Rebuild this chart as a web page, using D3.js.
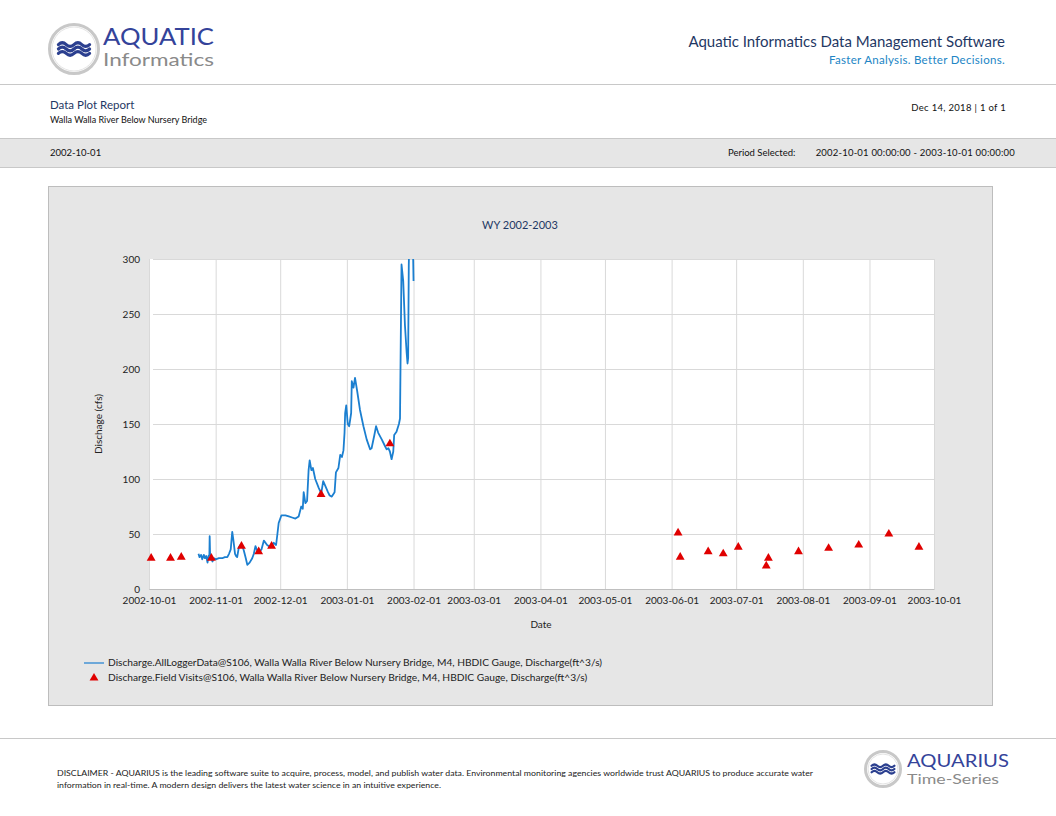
<!DOCTYPE html>
<html>
<head>
<meta charset="utf-8">
<script src="https://cdn.jsdelivr.net/npm/d3@7"></script>
<style>
  body { margin:0; background:#fff; }
  text { font-family: Lato, "Open Sans", sans-serif; }
</style>
</head>
<body>
<script>
// logger discharge series (ft^3/s)
const loggerTimes = [
  "2002-10-24 00:00","2002-10-24 12:00","2002-10-25 06:00","2002-10-25 18:00","2002-10-26 12:00",
  "2002-10-27 00:00","2002-10-27 14:00","2002-10-28 05:00","2002-10-28 16:00","2002-10-29 02:00",
  "2002-10-29 05:00","2002-10-29 10:00","2002-10-29 17:00","2002-10-30 12:00","2002-10-31 06:00",
  "2002-11-01 00:00","2002-11-02 12:00","2002-11-04 02:00","2002-11-05 06:00","2002-11-06 10:00",
  "2002-11-07 05:00","2002-11-08 00:00","2002-11-08 17:00","2002-11-09 05:00","2002-11-10 00:00",
  "2002-11-10 12:00","2002-11-11 00:00","2002-11-11 19:00","2002-11-12 12:00","2002-11-13 10:00",
  "2002-11-14 02:00","2002-11-15 00:00","2002-11-15 17:00","2002-11-16 19:00","2002-11-18 00:00",
  "2002-11-18 18:00","2002-11-19 12:00","2002-11-20 07:00","2002-11-21 02:00","2002-11-22 07:00",
  "2002-11-23 10:00","2002-11-24 22:00","2002-11-26 12:00","2002-11-28 00:00","2002-11-29 02:00",
  "2002-11-29 17:00","2002-11-30 07:00","2002-12-01 14:00","2002-12-03 10:00","2002-12-05 00:00",
  "2002-12-06 12:00","2002-12-08 02:00","2002-12-09 14:00","2002-12-10 19:00","2002-12-11 12:00",
  "2002-12-11 22:00","2002-12-12 17:00","2002-12-13 12:00","2002-12-14 05:00","2002-12-14 17:00",
  "2002-12-15 12:00","2002-12-16 05:00","2002-12-17 07:00","2002-12-18 22:00","2002-12-20 02:00",
  "2002-12-21 00:00","2002-12-21 22:00","2002-12-23 05:00","2002-12-24 00:00","2002-12-25 00:00",
  "2002-12-26 07:00","2002-12-26 22:00","2002-12-28 02:00","2002-12-28 22:00","2002-12-29 17:00",
  "2002-12-30 10:00","2002-12-30 22:00","2002-12-31 05:00","2002-12-31 17:00","2003-01-01 10:00",
  "2003-01-02 02:00","2003-01-03 00:00","2003-01-03 07:00","2003-01-04 02:00","2003-01-04 19:00",
  "2003-01-05 19:00","2003-01-07 02:00","2003-01-08 17:00","2003-01-10 05:00","2003-01-11 19:00",
  "2003-01-12 12:00","2003-01-13 19:00","2003-01-14 14:00","2003-01-15 14:00","2003-01-17 05:00",
  "2003-01-18 17:00","2003-01-19 12:00","2003-01-20 07:00","2003-01-21 00:00","2003-01-21 19:00",
  "2003-01-22 14:00","2003-01-23 00:00","2003-01-24 02:00","2003-01-25 05:00","2003-01-25 17:00",
  "2003-01-26 02:00","2003-01-26 10:00","2003-01-27 05:00","2003-01-28 00:00","2003-01-28 19:00",
  "2003-01-29 05:00","2003-01-29 12:00","2003-01-29 19:00","2003-01-30 06:00","2003-01-31 12:00",
  "2003-01-31 20:00","2003-02-01 00:00"
];
const loggerValues = [
  32,29,31,27,31,
  28,30,24,30,31,
  48,31,29,25,28,
  27,28,28,29,29,
  32,36,52,45,32,
  30,29,38,40,39,
  35,28,22,24,28,
  32,39,35,33,36,
  44,40,38,42,40,
  50,60,67,67,66,
  65,64,66,75,73,
  88,78,80,108,117,
  108,110,100,92,87,
  98,94,88,85,84,
  88,106,110,122,120,
  126,142,160,167,150,
  148,160,189,183,192,
  180,163,148,136,127,
  128,140,148,142,136,
  130,127,128,125,118,
  125,140,143,150,155,
  230,295,280,240,215,
  205,210,295,340,340,
  300,280
];

// field visit measurements
const visitDates = [
  "2002-10-02","2002-10-11","2002-10-16","2002-10-30","2002-11-13","2002-11-21","2002-11-27",
  "2002-12-20","2003-01-21","2003-06-04","2003-06-05","2003-06-18","2003-06-25","2003-07-02",
  "2003-07-15","2003-07-16","2003-07-30","2003-08-13","2003-08-27","2003-09-10","2003-09-24"
];
const visitValues = [
  28,28,29,28,39,34,39,
  86,132,51,29,34,32,38,
  21,28,34,37,40,50,38
];

const yTicks = [0,50,100,150,200,250,300];
const xDomain = ["2002-10-01","2003-10-01"];

const legendLabels = [
  "Discharge.AllLoggerData@S106, Walla Walla River Below Nursery Bridge, M4, HBDIC Gauge, Discharge(ft^3/s)",
  "Discharge.Field Visits@S106, Walla Walla River Below Nursery Bridge, M4, HBDIC Gauge, Discharge(ft^3/s)"
];

const navy = "#1f3864";
const lineColor = "#1b7fd0";
const visitColor = "#e00000";

const parseTime = d3.utcParse("%Y-%m-%d %H:%M");
const parseDay = d3.utcParse("%Y-%m-%d");

const svg = d3.select("body").append("svg")
    .attr("width",1056)
    .attr("height",816);

// logo: ring with three waves
function drawLogo(g, cx, cy, r){
  g.append("circle").attr("cx",cx).attr("cy",cy).attr("r",r-1.5)
    .attr("fill","#fff").attr("stroke","#c8c8c8").attr("stroke-width",3);
  g.append("circle").attr("cx",cx).attr("cy",cy).attr("r",r-4)
    .attr("fill","none").attr("stroke","#e4e4e4").attr("stroke-width",1);
  const w = r*0.6, amp = r*0.07, gap = r*0.17;
  [-1,0,1].forEach(k=>{
    const p = d3.path();
    const y0 = cy + k*gap;
    p.moveTo(cx-w, y0);
    for (let i=0;i<2;i++){
      const x0 = cx - w + i*w;
      p.quadraticCurveTo(x0 + w/4, y0 - amp*2, x0 + w/2, y0);
      p.quadraticCurveTo(x0 + 3*w/4, y0 + amp*2, x0 + w, y0);
    }
    g.append("path").attr("d",p.toString()).attr("fill","none")
      .attr("stroke","#2b3f8f").attr("stroke-width",r*0.12).attr("stroke-linecap","round");
  });
}

// header
drawLogo(svg.append("g"), 74, 49, 26);
svg.append("text").attr("x",103).attr("y",45)
   .attr("font-family","'Liberation Serif', 'DejaVu Serif', serif").attr("font-size",23)
   .attr("fill","#34439a").attr("textLength",111).attr("lengthAdjust","spacingAndGlyphs")
   .text("AQUATIC");
svg.append("text").attr("x",103).attr("y",66)
   .attr("font-family","'Liberation Sans', sans-serif").attr("font-size",17)
   .attr("fill","#8a8a8a").attr("textLength",111).attr("lengthAdjust","spacingAndGlyphs")
   .text("Informatics");

svg.append("text").attr("x",1005).attr("y",47).attr("text-anchor","end")
   .attr("font-size",15).attr("fill",navy)
   .text("Aquatic Informatics Data Management Software");
svg.append("text").attr("x",1005).attr("y",64).attr("text-anchor","end")
   .attr("font-size",11.5).attr("fill","#2185c5").attr("letter-spacing",0.3)
   .text("Faster Analysis. Better Decisions.");

svg.append("line").attr("x1",0).attr("x2",1056).attr("y1",84.5).attr("y2",84.5)
   .attr("stroke","#c8c8c8");

svg.append("text").attr("x",50).attr("y",109).attr("font-size",11.5).attr("fill",navy)
   .text("Data Plot Report");
svg.append("text").attr("x",50).attr("y",123).attr("font-size",9).attr("fill","#111")
   .text("Walla Walla River Below Nursery Bridge");
svg.append("text").attr("x",1006).attr("y",111).attr("text-anchor","end")
   .attr("font-size",9.5).attr("fill","#111").attr("letter-spacing",0.3)
   .text("Dec 14, 2018 | 1 of 1");

// grey period band
svg.append("rect").attr("x",0).attr("y",138).attr("width",1056).attr("height",30)
   .attr("fill","#e6e6e6");
svg.append("line").attr("x1",0).attr("x2",1056).attr("y1",138.5).attr("y2",138.5).attr("stroke","#c8c8c8");
svg.append("line").attr("x1",0).attr("x2",1056).attr("y1",167.5).attr("y2",167.5).attr("stroke","#c8c8c8");
svg.append("text").attr("x",50).attr("y",156).attr("font-size",9.5).attr("fill","#111").text("2002-10-01");
svg.append("text").attr("x",728).attr("y",156).attr("font-size",9.5).attr("fill","#111").text("Period Selected:");
svg.append("text").attr("x",1015).attr("y",156).attr("text-anchor","end").attr("font-size",9.5).attr("fill","#111")
   .attr("letter-spacing",0.2)
   .text("2002-10-01 00:00:00 - 2003-10-01 00:00:00");

// chart box
svg.append("rect").attr("x",48.5).attr("y",186.5).attr("width",944).attr("height",519)
   .attr("fill","#e6e6e6").attr("stroke","#bdbdbd");

const plot = {left:149, right:934, top:259, bottom:589};

const x = d3.scaleUtc()
    .domain(xDomain.map(parseDay))
    .range([plot.left, plot.right]);
const y = d3.scaleLinear()
    .domain([0,300])
    .range([plot.bottom, plot.top]);

svg.append("rect").attr("x",plot.left).attr("y",plot.top)
   .attr("width",plot.right-plot.left).attr("height",plot.bottom-plot.top)
   .attr("fill","#fff");

svg.append("text").attr("x",520).attr("y",229).attr("text-anchor","middle")
   .attr("font-size",11).attr("fill",navy).text("WY 2002-2003");

// y grid + axis
const yAxis = svg.append("g")
    .attr("transform",`translate(${plot.left},0)`)
    .call(d3.axisLeft(y).tickValues(yTicks).tickSize(-(plot.right-plot.left)).tickSizeOuter(0).tickPadding(9));
yAxis.select(".domain").attr("stroke","#bfbfbf");
yAxis.selectAll(".tick line").attr("stroke","#d9d9d9").attr("x1",4);
yAxis.selectAll(".tick text").attr("font-size",10).attr("fill","#222")
     .attr("font-family","Lato, sans-serif");

// x grid + axis
const xTicks = d3.utcMonth.range(parseDay(xDomain[0]), d3.utcDay.offset(parseDay(xDomain[1]),1));
const xAxis = svg.append("g")
    .attr("transform",`translate(0,${plot.bottom})`)
    .call(d3.axisBottom(x).tickValues(xTicks).tickFormat(d3.utcFormat("%Y-%m-%d"))
          .tickSize(-(plot.bottom-plot.top)).tickSizeOuter(0).tickPadding(8));
xAxis.select(".domain").attr("stroke","#bfbfbf");
xAxis.selectAll(".tick line").attr("stroke","#d9d9d9");
xAxis.selectAll(".tick text").attr("font-size",10).attr("fill","#222")
     .attr("font-family","Lato, sans-serif");

svg.append("text").attr("x",541).attr("y",628).attr("text-anchor","middle")
   .attr("font-size",10).attr("fill","#222").text("Date");
svg.append("text").attr("transform","translate(102,424) rotate(-90)")
   .attr("text-anchor","middle").attr("font-size",10).attr("fill","#222")
   .text("Dischage (cfs)");

// clip to plot area
svg.append("clipPath").attr("id","plotClip")
   .append("rect").attr("x",plot.left).attr("y",plot.top)
   .attr("width",plot.right-plot.left).attr("height",plot.bottom-plot.top);

const loggerPoints = loggerTimes.map((t,i)=>({t:parseTime(t), v:loggerValues[i]}));
const lineGenerator = d3.line()
    .x(d => x(d.t))
    .y(d => y(d.v));

svg.append("path")
   .attr("clip-path","url(#plotClip)")
   .attr("d",lineGenerator(loggerPoints))
   .attr("fill","none")
   .attr("stroke",lineColor)
   .attr("stroke-width",1.8)
   .attr("stroke-linejoin","round");

const triangle = d3.symbol().type(d3.symbolTriangle).size(34);
svg.selectAll(".visit")
   .data(visitDates.map((d,i)=>({t:parseDay(d), v:visitValues[i]})))
   .enter()
   .append("path")
     .attr("class","visit")
     .attr("d",triangle)
     .attr("transform",d=>`translate(${x(d.t)},${y(d.v)})`)
     .attr("fill",visitColor);

// legend
const legend = svg.append("g");
legend.append("line").attr("x1",84).attr("x2",104).attr("y1",663).attr("y2",663)
   .attr("stroke",lineColor).attr("stroke-width",1.2);
legend.append("path").attr("d",triangle).attr("transform","translate(94,678)").attr("fill",visitColor);
legendLabels.forEach((lbl,i)=>{
  legend.append("text").attr("x",108).attr("y",666+i*15)
    .attr("font-size",10.2).attr("fill","#222").text(lbl);
});

// footer
svg.append("line").attr("x1",0).attr("x2",1056).attr("y1",738.5).attr("y2",738.5)
   .attr("stroke","#c8c8c8");
svg.append("text").attr("x",57).attr("y",776)
   .attr("font-family","'Liberation Sans Narrow', 'Liberation Sans', sans-serif")
   .attr("font-size",7.5).attr("fill","#222")
   .attr("textLength",756).attr("lengthAdjust","spacingAndGlyphs")
   .text("DISCLAIMER - AQUARIUS is the leading software suite to acquire, process, model, and publish water data. Environmental monitoring agencies worldwide trust AQUARIUS to produce accurate water");
svg.append("text").attr("x",57).attr("y",788)
   .attr("font-family","'Liberation Sans Narrow', 'Liberation Sans', sans-serif")
   .attr("font-size",7.5).attr("fill","#222")
   .attr("textLength",384).attr("lengthAdjust","spacingAndGlyphs")
   .text("information in real-time. A modern design delivers the latest water science in an intuitive experience.");

drawLogo(svg.append("g"), 883, 769, 19);
svg.append("text").attr("x",907).attr("y",767)
   .attr("font-family","'Liberation Serif', 'DejaVu Serif', serif").attr("font-size",17)
   .attr("fill","#34439a").attr("textLength",102).attr("lengthAdjust","spacingAndGlyphs")
   .text("AQUARIUS");
svg.append("text").attr("x",907).attr("y",784)
   .attr("font-family","'Liberation Sans', sans-serif").attr("font-size",13)
   .attr("fill","#8a8a8a").attr("textLength",92).attr("lengthAdjust","spacingAndGlyphs")
   .text("Time-Series");
</script>
</body>
</html>
